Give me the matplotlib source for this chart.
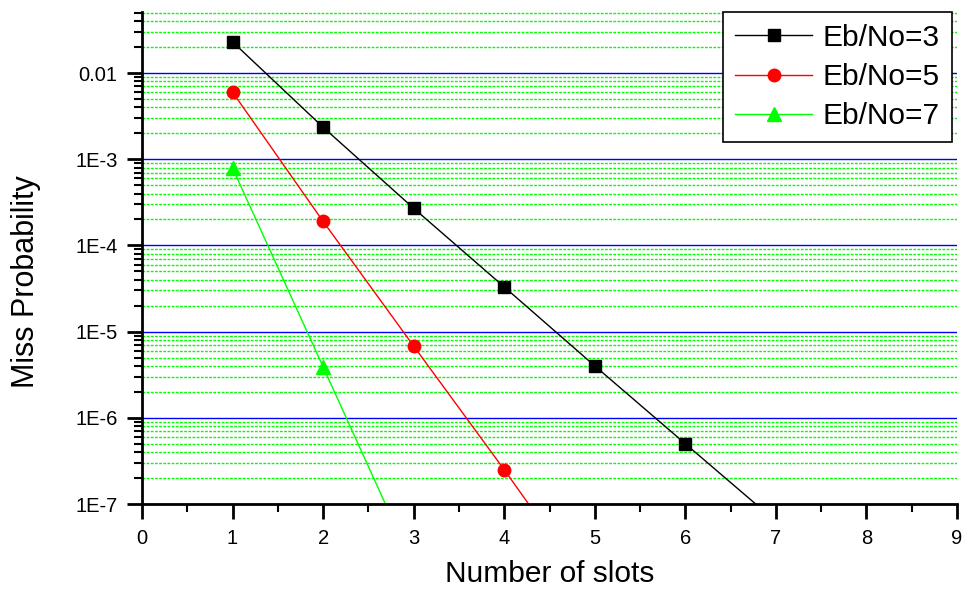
import numpy as np
import matplotlib
matplotlib.use("Agg")
import matplotlib.pyplot as plt
from matplotlib.ticker import LogLocator, MultipleLocator, NullFormatter

plt.rcParams['font.family'] = ['Liberation Sans', 'DejaVu Sans']

# number of slots
slots = [1, 2, 3, 4, 5, 6, 7]

# miss probability (last points fall below the axis)
eb3 = [2.3e-2, 2.35e-3, 2.7e-4, 3.3e-5, 4.0e-6, 5.0e-7, 6.3e-8]
eb5 = [6.0e-3, 1.9e-4, 6.8e-6, 2.5e-7, 8.3e-9]
eb7 = [7.9e-4, 3.9e-6, 1.9e-8]

labels = ["Eb/No=3", "Eb/No=5", "Eb/No=7"]

ytick_vals = [1e-7, 1e-6, 1e-5, 1e-4, 1e-3, 1e-2]
ytick_text = ["1E-7", "1E-6", "1E-5", "1E-4", "1E-3", "0.01"]

W, H = 963, 591
fig = plt.figure(figsize=(W / 100, H / 100), dpi=100)
ax = fig.add_axes([142 / W, 1 - 504 / H, (957 - 142) / W, (504 - 11.7) / H])

ax.plot(slots[:len(eb3)], eb3, color="black", lw=1, marker="s", ms=8.5,
        label=labels[0])
ax.plot(slots[:len(eb5)], eb5, color="#ff0000", lw=1, marker="o", ms=9,
        label=labels[1])
ax.plot(slots[:len(eb7)], eb7, color="#00ff00", lw=1, marker="^", ms=10,
        label=labels[2])

ax.set_yscale("log")
ax.set_xlim(0, 9)
ax.set_ylim(1e-7, 0.0515)

ax.set_yticks(ytick_vals)
ax.set_yticklabels(ytick_text)
ax.yaxis.set_minor_locator(LogLocator(base=10, subs=np.arange(2, 10)))
ax.yaxis.set_minor_formatter(NullFormatter())
ax.xaxis.set_major_locator(MultipleLocator(1))
ax.xaxis.set_minor_locator(MultipleLocator(0.5))

ax.grid(True, which="major", axis="y", color="#0000ff", lw=1, ls="-")
ax.grid(True, which="minor", axis="y", color="#00ff00", lw=1, ls=(0, (2, 1)))
ax.set_axisbelow(True)

for s in ["top", "right"]:
    ax.spines[s].set_visible(False)
for s in ["left", "bottom"]:
    ax.spines[s].set_linewidth(2)

ax.tick_params(which="major", direction="out", length=11, width=2,
               labelsize=14.5)
ax.tick_params(which="minor", direction="out", length=6, width=1.5)
ax.tick_params(axis="x", which="major", pad=7)
ax.tick_params(axis="y", which="major", pad=6.5)

ax.set_xlabel("Number of slots", fontsize=21.5, labelpad=8.5)
ax.set_ylabel("Miss Probability", fontsize=22)
ax.yaxis.set_label_coords(-0.124, 0.451)

leg = ax.legend(loc="upper right", bbox_to_anchor=(952 / W, 1 - 11.7 / H),
                bbox_transform=fig.transFigure, borderaxespad=0,
                fontsize=21.5, fancybox=False, framealpha=1, edgecolor="black",
                handlelength=2.6, handletextpad=0.35, borderpad=0.4,
                labelspacing=0.38)
leg.get_frame().set_linewidth(1.2)

fig.savefig("out.png", dpi=100)
